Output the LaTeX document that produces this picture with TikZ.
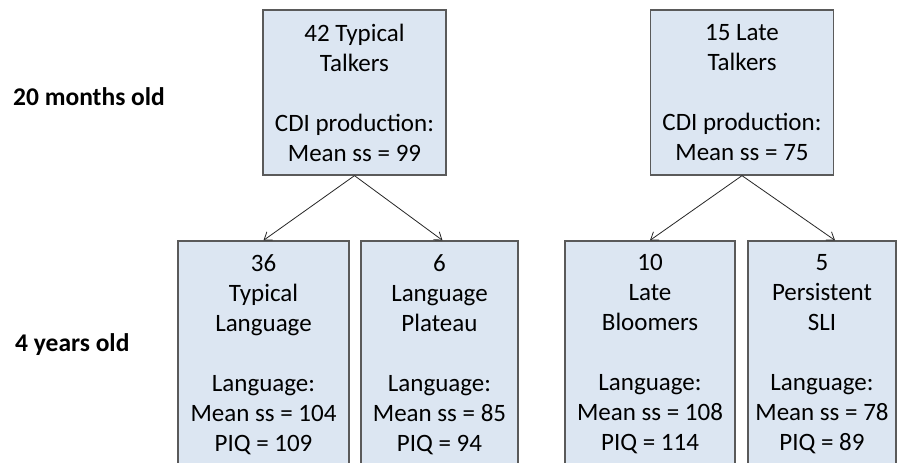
\documentclass[tikz,border=0pt]{standalone}
\usepackage{fontspec}
\setmainfont{Carlito}
\usetikzlibrary{arrows.meta}
\definecolor{boxfill}{HTML}{DCE6F2}
\definecolor{boxline}{HTML}{5A5A5A}
\begin{document}
\begin{tikzpicture}[x=1pt,y=-1pt,
  box/.style={draw=boxline, fill=boxfill, line width=1.3pt, align=center, inner sep=0pt,
    font=\fontsize{25}{30}\selectfont},
  agelabel/.style={anchor=west, inner sep=0pt, font=\bfseries\fontsize{25.5}{30}\selectfont},
  conn/.style={-{Straight Barb[length=7pt,width=10pt]}, line width=0.8pt, draw=black!85}]
\useasboundingbox (0,0) rectangle (898,463);
\clip (0,0) rectangle (898,463);
\fill[white] (0,0) rectangle (898,463);

\node[agelabel] (l1) at (13,97) {20 months old};
\node[agelabel] (l2) at (15,345) {4 years old};

\node[box, minimum width=183pt, minimum height=165pt] (t1) at (354.5,92.5)
  {42 Typical\\Talkers\\[30pt]CDI production:\\Mean ss = 99};
\node[box, minimum width=183pt, minimum height=165pt] (t2) at (742,92.5)
  {15 Late\\Talkers\\[30pt]CDI production:\\Mean ss = 75};

\node[box, minimum width=171pt, minimum height=227pt] (b1) at (263.5,354.5)
  {36\\Typical\\Language\\[30pt]Language:\\Mean ss = 104\\PIQ = 109};
\node[box, minimum width=157pt, minimum height=227pt] (b2) at (439.5,354.5)
  {6\\Language\\Plateau\\[30pt]Language:\\Mean ss = 85\\PIQ = 94};
\node[box, minimum width=170pt, minimum height=227pt] (b3) at (650,354.5)
  {10\\Late\\Bloomers\\[30pt]Language:\\Mean ss = 108\\PIQ = 114};
\node[box, minimum width=148pt, minimum height=227pt] (b4) at (822,354.5)
  {5\\Persistent\\SLI\\[30pt]Language:\\Mean ss = 78\\PIQ = 89};

\draw[conn] (t1.south) -- (b1.north);
\draw[conn] (t1.south) -- ([xshift=3pt]b2.north);
\draw[conn] (t2.south) -- (b3.north);
\draw[conn] (t2.south) -- ([xshift=13pt]b4.north);
\end{tikzpicture}
\end{document}
